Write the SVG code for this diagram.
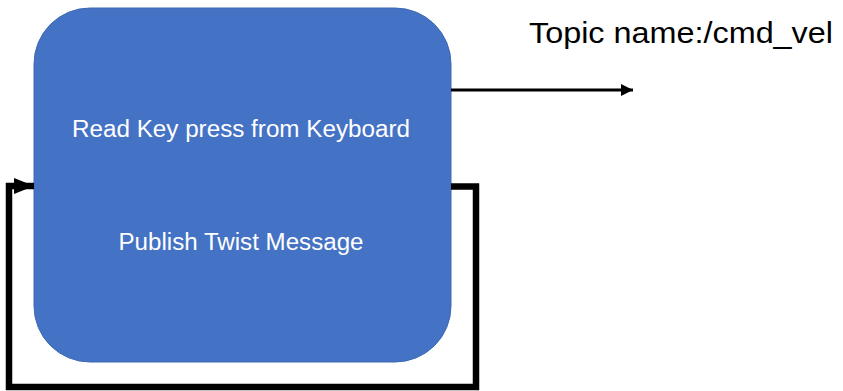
<svg xmlns="http://www.w3.org/2000/svg" width="843" height="391" viewBox="0 0 843 391">
<style>
.lbl{font-family:"Liberation Sans",Arial,sans-serif;fill:#ffffff;font-size:23.5px;text-anchor:middle}
.topic{font-family:"Liberation Sans",Arial,sans-serif;fill:#000000;font-size:30px}
.conn{fill:none;stroke:#000000;stroke-linejoin:miter}
</style>
<defs>
<marker id="ah" markerUnits="userSpaceOnUse" markerWidth="14" markerHeight="14" refX="12" refY="7" orient="auto" viewBox="0 0 14 14">
<path d="M0,1 L12,7 L0,13 Z" fill="#000"/>
</marker>
<marker id="ahL" markerUnits="userSpaceOnUse" markerWidth="22" markerHeight="18" refX="20" refY="9" orient="auto" viewBox="0 0 22 18">
<path d="M0,1 L20,9 L0,17 Z" fill="#000"/>
</marker>
</defs>
<rect width="843" height="391" fill="#ffffff"/>
<g id="node-main">
<rect x="34" y="8" width="417" height="354" rx="56" ry="56" fill="#4472c4" stroke="#3f68b4" stroke-width="1"/>
<text class="lbl" x="241" y="137" textLength="338" lengthAdjust="spacingAndGlyphs">Read Key press from Keyboard</text>
<text class="lbl" x="241" y="250" textLength="245" lengthAdjust="spacingAndGlyphs">Publish Twist Message</text>
</g>
<g id="label-topic">
<text class="topic" x="529" y="43" textLength="304" lengthAdjust="spacingAndGlyphs">Topic name:/cmd_vel</text>
</g>
<g id="connectors">
<path class="conn" d="M451,90 L633,90" stroke-width="3" marker-end="url(#ah)"/>
<path class="conn" d="M451,186.5 L476,186.5 L476,387 L9,387 L9,186 L34,186" stroke-width="6.5" marker-end="url(#ahL)"/>
</g>
</svg>
